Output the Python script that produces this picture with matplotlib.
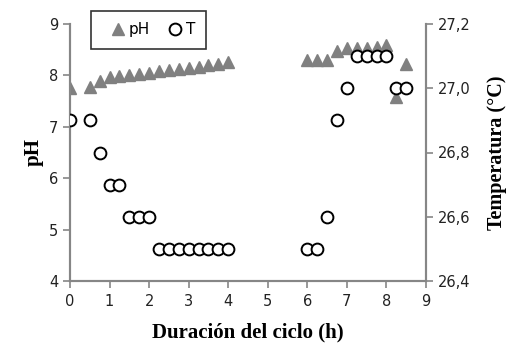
import matplotlib
matplotlib.use("Agg")
import matplotlib.pyplot as plt
from matplotlib.ticker import FuncFormatter

# duration of the cycle (h)
hours = [0, 0.5, 0.75, 1.0, 1.25, 1.5, 1.75, 2.0, 2.25, 2.5, 2.75, 3.0, 3.25, 3.5, 3.75, 4.0,
         6.0, 6.25, 6.5, 6.75, 7.0, 7.25, 7.5, 7.75, 8.0, 8.25, 8.5]
ph = [7.75, 7.78, 7.89, 7.96, 7.99, 8.0, 8.02, 8.05, 8.08, 8.1, 8.12, 8.15, 8.17, 8.2, 8.23, 8.26,
      8.3, 8.3, 8.3, 8.48, 8.53, 8.54, 8.54, 8.56, 8.59, 7.58, 8.23]
temp = [26.9, 26.9, 26.8, 26.7, 26.7, 26.6, 26.6, 26.6, 26.5, 26.5, 26.5, 26.5, 26.5, 26.5, 26.5, 26.5,
        26.5, 26.5, 26.6, 26.9, 27.0, 27.1, 27.1, 27.1, 27.1, 27.0, 27.0]

grey = "#868686"
plt.rcParams['font.family'] = ['DejaVu Sans']

fig = plt.figure(figsize=(5.08, 3.45), dpi=100)
ax = fig.add_axes([70 / 508, 64 / 345, 356 / 508, 257 / 345])
ax2 = ax.twinx()

l1, = ax.plot(hours, ph, linestyle='none', marker='^', markersize=8,
              color='#808080', label='pH', zorder=3)
l2, = ax2.plot(hours, temp, linestyle='none', marker='o', markersize=8.5,
               markerfacecolor='white', markeredgecolor='black', markeredgewidth=1.4,
               label='T', zorder=4)

ax.set_xlim(0, 9)
ax.set_ylim(4, 9)
ax2.set_ylim(26.4, 27.2)
ax.set_xticks(range(0, 10))
ax.set_yticks(range(4, 10))
ax2.set_yticks([26.4, 26.6, 26.8, 27.0, 27.2])
ax2.yaxis.set_major_formatter(FuncFormatter(lambda v, p: f"{v:.1f}".replace('.', ',')))

for a in (ax, ax2):
    for s in a.spines.values():
        s.set_color(grey)
        s.set_linewidth(1.5)
    a.spines['top'].set_visible(False)
    a.tick_params(colors=grey, labelcolor='#222222', labelsize=10.5, length=5, width=1.2)
ax.tick_params(axis='x', pad=4)

ax.set_xlabel('Duración del ciclo (h)', family='Liberation Serif', fontweight='bold',
              fontsize=15, labelpad=10)
ax.set_ylabel('pH', family='Liberation Serif', fontweight='bold', fontsize=15, labelpad=4)
ax2.set_ylabel('Temperatura (°C)', family='Liberation Serif', fontweight='bold',
               fontsize=14.5, labelpad=12)

leg = fig.legend(handles=[l1, l2], loc='upper left', bbox_to_anchor=(91 / 508, 1 - 11 / 345),
                 ncol=2, frameon=True, fancybox=False, fontsize=11, handletextpad=-0.3,
                 columnspacing=0.65, handlelength=2.0, borderpad=0.75, borderaxespad=0)
leg.get_frame().set_edgecolor('black')
leg.get_frame().set_linewidth(1.2)

fig.savefig('out.png', dpi=100)
